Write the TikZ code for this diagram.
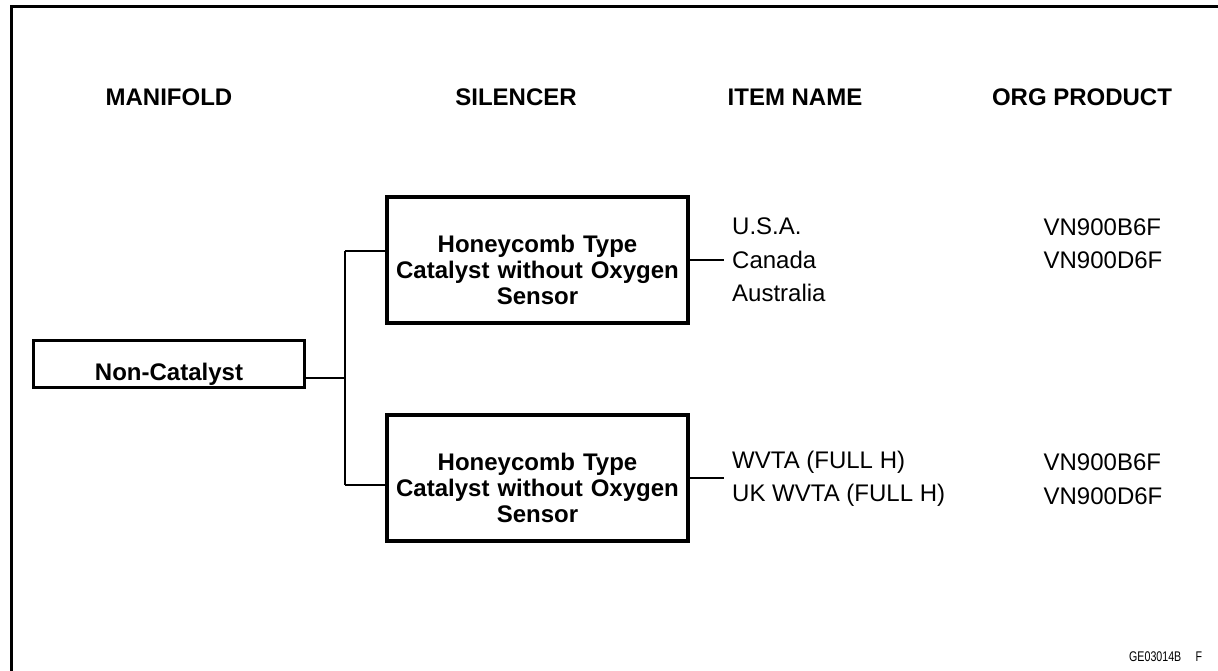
\documentclass[tikz,border=0pt]{standalone}
\usepackage{fontspec}
\setmainfont{Liberation Sans}
\tikzset{
  catbox/.style={draw, line width=3.2pt, align=center, inner sep=0pt,
    font=\bfseries\fontsize{24}{26}\selectfont},
  heading/.style={font=\bfseries\fontsize{24}{28}\selectfont},
  itemtext/.style={align=left, inner xsep=8pt, font=\fontsize{24}{33.5}\selectfont},
  prodtext/.style={align=left, inner sep=0pt, font=\fontsize{24}{33.5}\selectfont},
  link/.style={line width=1.8pt},
}
\begin{document}
\begin{tikzpicture}[x=1pt, y=-1pt]
    \useasboundingbox (0,0) rectangle (1218,671);
    % Frame
    \draw[line width=2.7pt] (11.3,671) -- (11.3,6.5) -- (1218,6.5);

    % Column headings
    \node[heading] (hmanifold) at (169,97) {MANIFOLD};
    \node[heading] (hsilencer) at (516,97) {SILENCER};
    \node[heading] (hitem) at (795,97) {ITEM NAME};
    \node[heading] (hprod) at (1082,97) {ORG PRODUCT};

    % Manifold and silencers
    \node[catbox, text width=271pt, text height=40pt, text depth=7pt] (noncat) at (169,364) {Non-Catalyst};
    \node[catbox, text width=301pt, text height=55pt, text depth=71pt] (silA) at (537.5,260)
        {Honeycomb Type\\Catalyst without Oxygen\\Sensor};
    \node[catbox, text width=301pt, text height=55pt, text depth=71pt] (silB) at (537.5,478)
        {Honeycomb Type\\Catalyst without Oxygen\\Sensor};

    % Item names
    \node[itemtext, anchor=west] (itemsA) at (724,260) {U.S.A.\\Canada\\Australia};
    \node[itemtext, anchor=west] (itemsB) at (724,479) {WVTA (FULL H)\\UK WVTA (FULL H)};

    % Products
    \node[prodtext] (prodA) at (1103,243.5) {VN900B6F\\VN900D6F};
    \node[prodtext] (prodB) at (1103,479) {VN900B6F\\VN900D6F};

    % Tree lines
    \coordinate (trunktop) at (345,251);
    \coordinate (trunkbot) at (345,485);
    \draw[link] (trunktop) -- (trunkbot);
    \draw[link] (noncat.mid east) -- (noncat.mid east -| trunktop);
    \draw[link] (trunktop) -- (trunktop -| silA.west);
    \draw[link] (trunkbot) -- (trunkbot -| silB.west);
    \draw[link] (silA.east) -- (silA.east -| itemsA.west);
    \draw[link] (silB.east) -- (silB.east -| itemsB.west);

    % Figure code
    \node[anchor=west, inner sep=0pt] (figcode) at (1129,657)
        {\fontsize{14}{14}\selectfont\scalebox{0.76}[1]{GE03014B\hspace{19pt}F}};
\end{tikzpicture}
\end{document}
